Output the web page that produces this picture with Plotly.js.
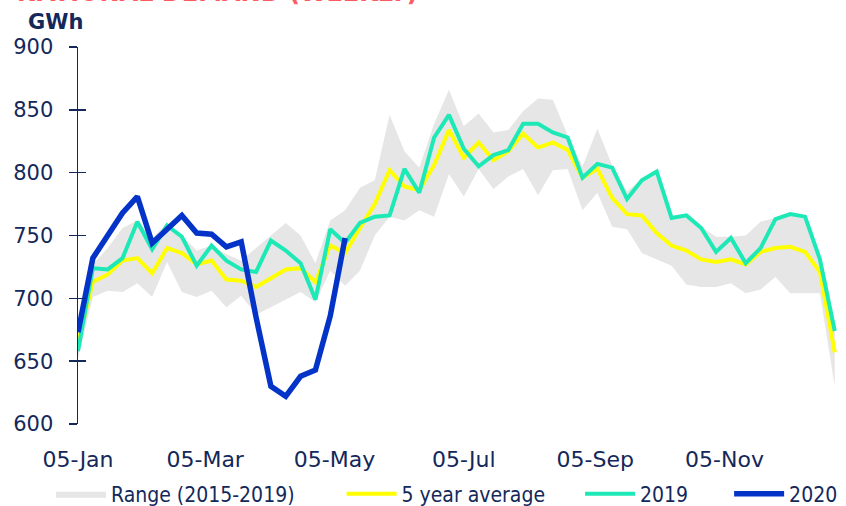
<!DOCTYPE html>
<html>
<head>
<meta charset="utf-8">
<script src="https://cdn.plot.ly/plotly-3.0.1.min.js"></script>
<style>html,body{margin:0;padding:0;background:#fff;}#chart{width:846px;height:506px;}</style>
</head>
<body>
<div id="chart"></div>
<script>
// Week-ending dates (x categories)
var weeks = ["2020-01-05","2020-01-12","2020-01-19","2020-01-26","2020-02-02","2020-02-09","2020-02-16","2020-02-23",
"2020-03-01","2020-03-08","2020-03-15","2020-03-22","2020-03-29","2020-04-05","2020-04-12","2020-04-19","2020-04-26",
"2020-05-03","2020-05-10","2020-05-17","2020-05-24","2020-05-31","2020-06-07","2020-06-14","2020-06-21","2020-06-28",
"2020-07-05","2020-07-12","2020-07-19","2020-07-26","2020-08-02","2020-08-09","2020-08-16","2020-08-23","2020-08-30",
"2020-09-06","2020-09-13","2020-09-20","2020-09-27","2020-10-04","2020-10-11","2020-10-18","2020-10-25","2020-11-01",
"2020-11-08","2020-11-15","2020-11-22","2020-11-29","2020-12-06","2020-12-13","2020-12-20","2020-12-27"];

// Range (2015-2019) bounds, GWh
var rangeLow = [652,701,706,705,712,701,729,705,701,706,693,702,687,693,699,705,697,722,710,722,750,765,762,770,765,799,781,803,787,797,803,782,802,803,770,784,757,755,736,731,726,711,709,709,712,704,707,717,704,704,704,630];
var rangeHigh = [673,727,740,756,762,748,760,750,738,742,735,730,740,750,760,750,728,762,770,788,794,846,817,804,839,866,837,847,832,834,849,859,858,830,805,835,806,785,795,802,765,766,757,749,749,750,761,764,768,766,732,674];
// 5 year average
var avg5 = [665,713,719,730,732,720,740,736,727,730,715,714,709,716,723,724,713,742,736,756,775,802,789,786,806,834,812,824,810,817,831,820,824,818,796,803,780,767,766,752,742,738,731,729,731,727,737,740,741,737,721,657];
// 2019
var y2019 = [658,724,723,732,761,739,758,749,726,742,730,723,721,746,738,728,699,755,744,760,765,766,803,784,828,846,819,805,814,818,839,839,832,828,796,807,804,779,794,801,764,766,756,737,748,728,740,763,767,765,731,674];
// 2020
var y2020 = [673,732,750,768,781,744,755,766,752,751,741,745,685,630,622,638,643,686,748];

var tickDates = ["2020-01-05","2020-03-05","2020-05-05","2020-07-05","2020-09-05","2020-11-05"];
var tickLabels = ["05-Jan","05-Mar","05-May","05-Jul","05-Sep","05-Nov"];
var yTicks = [600,650,700,750,800,850,900];
var seriesNames = ["Range (2015-2019)", "5 year average", "2019", "2020"];

var navy = "#14285a";
function pad(n) { var s = ""; for (var i = 0; i < n; i++) s += "\u00A0"; return s; }
var traces = [
  {x: weeks, y: rangeLow, type: "scatter", mode: "lines", line: {width: 0, color: "#e6e6e6"}, showlegend: false, hoverinfo: "skip"},
  {x: weeks, y: rangeHigh, type: "scatter", mode: "lines", line: {width: 0, color: "#e6e6e6"}, fill: "tonexty", fillcolor: "#e6e6e6", name: seriesNames[0] + pad(7)},
  {x: weeks, y: avg5, type: "scatter", mode: "lines", line: {width: 4, color: "#ffff00"}, name: seriesNames[1] + pad(5)},
  {x: weeks, y: y2019, type: "scatter", mode: "lines", line: {width: 4, color: "#1de9b6"}, name: seriesNames[2] + pad(6)},
  {x: weeks.slice(0, y2020.length), y: y2020, yaxis: "y2", type: "scatter", mode: "lines", line: {width: 5.5, color: "#0433c8"}, name: seriesNames[3]}
];

var pw = 846 - 78 - 7;
var layout = {
  width: 846, height: 506,
  margin: {l: 78, r: 7, t: 47, b: 82, pad: 0, autoexpand: false},
  paper_bgcolor: "#ffffff", plot_bgcolor: "#ffffff",
  font: {family: "DejaVu Sans, Verdana, sans-serif", color: navy, size: 20},
  xaxis: {type: "date", range: ["2020-01-05", "2020-12-29"], tickvals: tickDates, ticktext: tickLabels,
          showgrid: false, zeroline: false, showline: false, ticks: "", ticklabelstandoff: 20,
          tickfont: {family: "DejaVu Sans, Verdana, sans-serif", size: 22, color: navy}},
  yaxis: {range: [600, 900], tickvals: yTicks, showgrid: false, zeroline: false, showline: true,
          linecolor: navy, linewidth: 1.5, ticks: "outside", ticklen: 8, tickwidth: 1.5, tickcolor: navy,
          ticklabelstandoff: 11, tickfont: {family: "DejaVu Sans, Verdana, sans-serif", size: 21, color: navy}},
  yaxis2: {range: [600, 900], overlaying: "y", anchor: "x", side: "left", tickvals: yTicks, showgrid: false,
           zeroline: false, showline: false, ticks: "inside", ticklen: 8, tickwidth: 1.5, tickcolor: navy, showticklabels: false},
  showlegend: true,
  legend: {orientation: "h", xref: "paper", x: (51 - 78) / pw, xanchor: "left", yref: "paper", y: -(494 - 424) / 377, yanchor: "middle",
           font: {family: "Liberation Sans Narrow, DejaVu Sans Condensed, sans-serif", size: 21, color: navy},
           itemwidth: 50, bgcolor: "rgba(0,0,0,0)", traceorder: "normal"},
  annotations: [
    {text: "<b>NATIONAL DEMAND (WEEKLY)</b>", xref: "paper", yref: "paper", x: (15 - 78) / pw, xanchor: "left",
     y: 1 + (47 - 9) / 377, yanchor: "bottom", showarrow: false,
     font: {family: "DejaVu Sans, Verdana, sans-serif", size: 24, color: "#ff5a5f"}},
    {text: "<b>GWh</b>", xref: "paper", yref: "paper", x: (26 - 78) / pw, xanchor: "left",
     y: 1 + (47 - 22) / 377, yanchor: "middle", showarrow: false,
     font: {family: "DejaVu Sans, Verdana, sans-serif", size: 21, color: navy}}
  ]
};
Plotly.newPlot("chart", traces, layout, {displayModeBar: false, staticPlot: true});
</script>
</body>
</html>
